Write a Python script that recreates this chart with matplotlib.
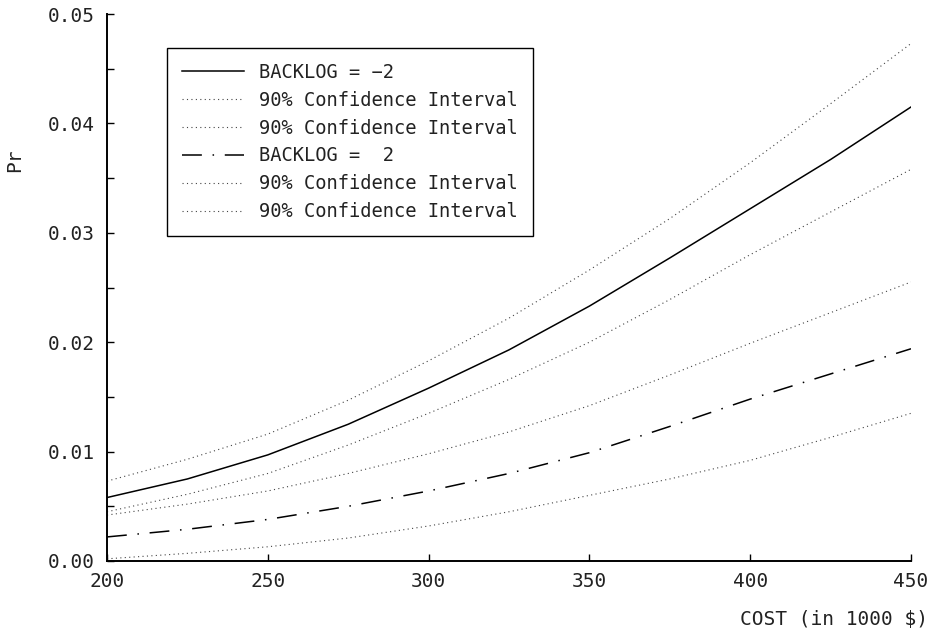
import numpy as np
import matplotlib
matplotlib.use("Agg")
import matplotlib.pyplot as plt
from matplotlib.ticker import MultipleLocator, FormatStrFormatter

# ========================================================================
# values

cost = [200, 225, 250, 275, 300, 325, 350, 375, 400, 425, 450]

pr_bl_m2 = [0.0058, 0.0075, 0.0097, 0.0125, 0.0158, 0.0193, 0.0233, 0.0277, 0.0322, 0.0367, 0.0415]
ci_hi_m2 = [0.0073, 0.0093, 0.0116, 0.0147, 0.0183, 0.0222, 0.0266, 0.0313, 0.0364, 0.0418, 0.0473]
ci_lo_m2 = [0.0045, 0.0061, 0.0080, 0.0106, 0.0135, 0.0166, 0.0200, 0.0239, 0.0280, 0.0319, 0.0358]

pr_bl_p2 = [0.0022, 0.0029, 0.0038, 0.0050, 0.0064, 0.0080, 0.0099, 0.0123, 0.0148, 0.0171, 0.0194]
ci_hi_p2 = [0.0042, 0.0052, 0.0064, 0.0080, 0.0098, 0.0118, 0.0142, 0.0170, 0.0199, 0.0227, 0.0255]
ci_lo_p2 = [0.0002, 0.0007, 0.0013, 0.0021, 0.0032, 0.0045, 0.0060, 0.0075, 0.0092, 0.0113, 0.0135]

labels = ["BACKLOG = \u22122", "90% Confidence Interval", "90% Confidence Interval",
          "BACKLOG =  2", "90% Confidence Interval", "90% Confidence Interval"]

# ========================================================================
# plot

plt.rcParams['font.family'] = ['DejaVu Sans Mono', 'DejaVu Sans']
plt.rcParams['text.color'] = '#222222'
plt.rcParams['xtick.labelcolor'] = '#222222'
plt.rcParams['ytick.labelcolor'] = '#222222'
fig = plt.figure(figsize=(9.35, 6.33), dpi=100)
ax = fig.add_axes([107/935, 1-561/633, 804/935, 547/633])

dot = dict(color='#444444', lw=0.8, linestyle=(0, (1, 3)))

ax.plot(cost, pr_bl_m2, color='black', lw=1.1, label=labels[0])
ax.plot(cost, ci_hi_m2, label=labels[1], **dot)
ax.plot(cost, ci_lo_m2, label=labels[2], **dot)
ax.plot(cost, pr_bl_p2, color='black', lw=1.1, linestyle=(0, (13, 7, 1, 7)), label=labels[3])
ax.plot(cost, ci_hi_p2, label=labels[4], **dot)
ax.plot(cost, ci_lo_p2, label=labels[5], **dot)

ax.set_xlim(200, 450)
ax.set_ylim(0, 0.05)

for s in ['top', 'right']:
	ax.spines[s].set_visible(False)
for s in ['left', 'bottom']:
	ax.spines[s].set_linewidth(1.4)

ax.xaxis.set_major_locator(MultipleLocator(50))
ax.yaxis.set_major_locator(MultipleLocator(0.01))
ax.yaxis.set_minor_locator(MultipleLocator(0.005))
ax.yaxis.set_major_formatter(FormatStrFormatter('%.2f'))
ax.tick_params(which='both', direction='in', length=5, width=1.0, labelsize=14)
ax.tick_params(axis='y', pad=8.5)
ax.tick_params(axis='x', pad=8)

fig.canvas.draw()
xl = ax.get_xticklabels()
xl[0].set_horizontalalignment('left')

fig.text(15/935, 1-160/633, "Pr", rotation=90, fontsize=14, ha='center', va='center')
fig.text(928/935, 1-620/633, "COST (in 1000 $)", fontsize=14, ha='right', va='center')

leg = ax.legend(loc='upper left', bbox_to_anchor=(60/804, 513/547), borderaxespad=0,
	prop={'size': 13.5}, frameon=True, fancybox=False, edgecolor='black', framealpha=1,
	handlelength=3.3, handletextpad=0.8, labelspacing=0.47, borderpad=0.8)
leg.get_frame().set_linewidth(1.0)

fig.savefig("out.png", dpi=100)
